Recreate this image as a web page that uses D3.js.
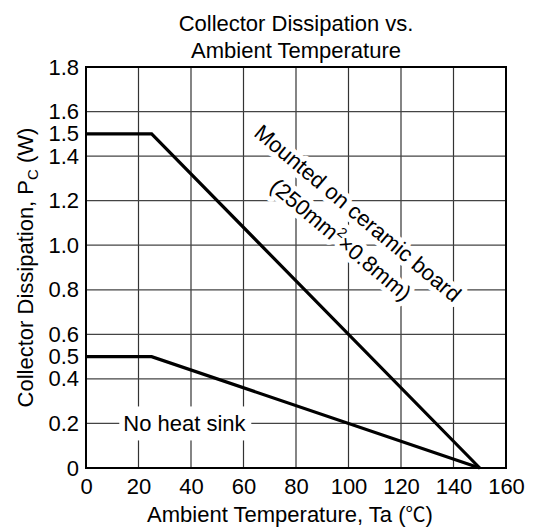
<!DOCTYPE html>
<html>
<head>
<meta charset="utf-8">
<script src="https://cdn.jsdelivr.net/npm/d3@7"></script>
<style>
  html, body { margin: 0; padding: 0; background: #fff; }
  svg { display: block; font-family: "Liberation Sans", Arial, sans-serif; }
</style>
</head>
<body>
<svg id="chart" width="535" height="529"></svg>
<script>
// ---- data ----
const titleLines = ["Collector Dissipation vs.", "Ambient Temperature"];
const xTicks = [0, 20, 40, 60, 80, 100, 120, 140, 160];
const yTickLabels = [0, 0.2, 0.4, 0.5, 0.6, 0.8, 1.0, 1.2, 1.4, 1.5, 1.6, 1.8];
const yGrid = [0.2, 0.4, 0.6, 0.8, 1.0, 1.2, 1.4, 1.6];
const tempCeramic = [0, 25, 150];
const pcCeramic = [1.5, 1.5, 0];
const tempNoSink = [0, 25, 150];
const pcNoSink = [0.5, 0.5, 0];
const ceramicLabel = ["Mounted on ceramic board", "(250mm", "2", "×0.8mm)"];
const noSinkLabel = "No heat sink";

// ---- layout ----
const pLeft = 86, pRight = 506, pTop = 67, pBottom = 468;
const x = d3.scaleLinear().domain([0, 160]).range([pLeft, pRight]);
const y = d3.scaleLinear().domain([0, 1.8]).range([pBottom, pTop]);
const svg = d3.select("#chart");
const fs = 22;

// title
svg.selectAll("text.title").data(titleLines).enter().append("text")
  .attr("class", "title")
  .attr("x", (pLeft + pRight) / 2)
  .attr("y", (d, i) => 31 + i * 27)
  .attr("text-anchor", "middle")
  .attr("font-size", fs)
  .text(d => d);

// grid
const g = svg.append("g");
g.selectAll("line.vg").data(xTicks.slice(1, -1)).enter().append("line")
  .attr("x1", d => x(d)).attr("x2", d => x(d))
  .attr("y1", pTop).attr("y2", pBottom)
  .attr("stroke", "#333").attr("stroke-width", 1.2);
g.selectAll("line.hg").data(yGrid).enter().append("line")
  .attr("x1", pLeft).attr("x2", pRight)
  .attr("y1", d => y(d)).attr("y2", d => y(d))
  .attr("stroke", "#444").attr("stroke-width", 1.2);

// axes (labels only)
const xAxis = d3.axisBottom(x).tickValues(xTicks).tickSize(0).tickPadding(10)
  .tickFormat(d3.format("d"));
svg.append("g").attr("transform", `translate(0,${pBottom})`).call(xAxis)
  .call(s => s.select(".domain").remove())
  .selectAll("text").attr("font-size", fs).attr("font-family", "Liberation Sans, Arial, sans-serif")
  .attr("fill", "#000");

const yAxis = d3.axisLeft(y).tickValues(yTickLabels).tickSize(0).tickPadding(7)
  .tickFormat(d => d === 0 ? "0" : d3.format(".1f")(d));
svg.append("g").attr("transform", `translate(${pLeft},0)`).call(yAxis)
  .call(s => s.select(".domain").remove())
  .selectAll("text").attr("font-size", fs).attr("font-family", "Liberation Sans, Arial, sans-serif")
  .attr("fill", "#000");

// annotations (drawn before data lines, with white halo)
const annG = svg.append("g");
const ncx = x(14.2), ncy = y(0.2);
annG.append("rect")
  .attr("x", ncx - 4).attr("y", ncy - 17)
  .attr("width", 132).attr("height", 34)
  .attr("fill", "#fff");
annG.append("text")
  .attr("x", ncx).attr("y", ncy).attr("dy", "0.36em")
  .attr("font-size", fs).text(noSinkLabel);

const cx = x(103.6), cy = y(1.145);
const rot = annG.append("g").attr("transform", `translate(${cx},${cy}) rotate(40)`);
function ceramicText(halo) {
  const t1 = rot.append("text")
    .attr("x", 0).attr("y", 0).attr("dy", "0.36em")
    .attr("text-anchor", "middle").attr("font-size", fs)
    .text(ceramicLabel[0]);
  const t2 = rot.append("text")
    .attr("x", 4).attr("y", 39)
    .attr("text-anchor", "middle").attr("font-size", fs);
  t2.append("tspan").text(ceramicLabel[1]);
  t2.append("tspan").attr("font-size", 14).attr("dy", -9).text(ceramicLabel[2]);
  t2.append("tspan").attr("dy", 9).text(ceramicLabel[3]);
  [t1, t2].forEach(t => {
    if (halo) t.attr("fill", "#fff").attr("stroke", "#fff").attr("stroke-width", 10)
      .attr("stroke-linejoin", "round");
    else t.attr("fill", "#000");
  });
}
ceramicText(true);
ceramicText(false);

// data lines
const line = d3.line().x(d => x(d[0])).y(d => y(d[1]));
const series = [
  d3.zip(tempCeramic, pcCeramic),
  d3.zip(tempNoSink, pcNoSink)
];
svg.selectAll("path.series").data(series).enter().append("path")
  .attr("class", "series")
  .attr("d", line)
  .attr("fill", "none").attr("stroke", "#000").attr("stroke-width", 3.2)
  .attr("stroke-linejoin", "miter");

// frame
svg.append("rect")
  .attr("x", pLeft).attr("y", pTop)
  .attr("width", pRight - pLeft).attr("height", pBottom - pTop)
  .attr("fill", "none").attr("stroke", "#000").attr("stroke-width", 2);

// axis titles
const xl = svg.append("text")
  .attr("x", (pLeft + pRight) / 2 - 6).attr("y", 522)
  .attr("text-anchor", "middle").attr("font-size", fs);
xl.append("tspan").text("Ambient Temperature, Ta (");
xl.append("tspan").attr("font-family", "Noto Sans CJK JP").attr("font-size", 20).text("℃");
xl.append("tspan").text(")");

const yl = svg.append("text")
  .attr("transform", `translate(33,${(pTop + pBottom) / 2}) rotate(-90)`)
  .attr("text-anchor", "middle").attr("font-size", fs);
yl.append("tspan").text("Collector Dissipation, P");
yl.append("tspan").attr("font-size", 15).attr("dy", 5).text("C");
yl.append("tspan").attr("dy", -5).text(" (W)");
</script>
</body>
</html>
